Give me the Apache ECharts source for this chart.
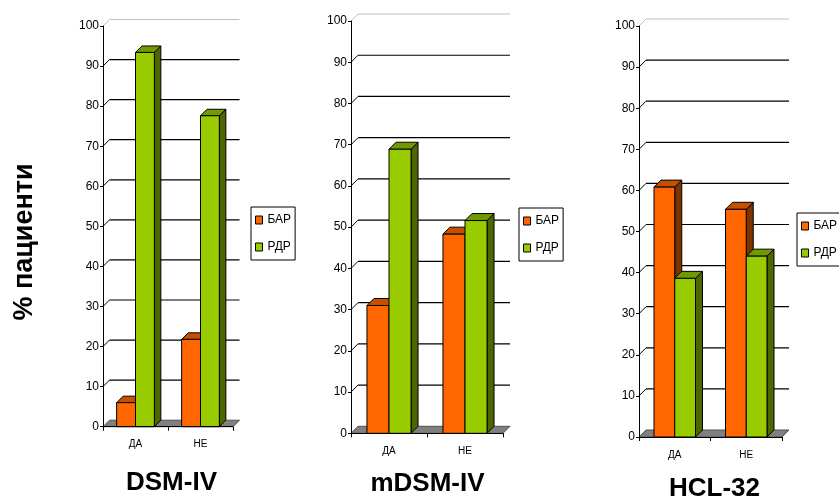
<!DOCTYPE html>
<html><head><meta charset="utf-8">
<script src="https://cdn.jsdelivr.net/npm/echarts@6/dist/echarts.min.js"></script>
<style>html,body{margin:0;padding:0;background:#fff}#c{width:839px;height:498px}</style>
</head><body><div id="c"></div>
<script>
// ---- data ----
const categories = ['ДА', 'НЕ'];
const seriesNames = ['БАР', 'РДР'];
const dsmBAR = [6, 21.8];
const dsmRDR = [93.4, 77.6];
const mdsmBAR = [31, 48.3];
const mdsmRDR = [68.9, 51.6];
const hclBAR = [60.8, 55.4];
const hclRDR = [38.6, 44];
const yTicks = [0, 10, 20, 30, 40, 50, 60, 70, 80, 90, 100];
const panelTitles = ['DSM-IV', 'mDSM-IV', 'HCL-32'];
const yTitle = '% пациенти';

// ---- layout / style ----
const panelData = [[dsmBAR, dsmRDR], [mdsmBAR, mdsmRDR], [hclBAR, hclRDR]];
const layout = [
  { grid: { left: 103, top: 26, width: 130, height: 400.7 }, depth: 6.5, legend: { left: 251, top: 207 }, title: [171.5, 483] },
  { grid: { left: 351, top: 21, width: 152, height: 412.3 }, depth: 7, legend: { left: 519, top: 208 }, title: [427.5, 484] },
  { grid: { left: 639, top: 26, width: 143, height: 411 }, depth: 7, legend: { left: 797, top: 213 }, title: [714.5, 489] }
];
const palette = [
  { front: '#FF6600', top: '#C65000', side: '#7F3300' },
  { front: '#99CC00', top: '#739900', side: '#4D6600' }
];
const FONT = "'Liberation Sans', Arial, sans-serif";

function barRender(side, colors, d) {
  return function (params, api) {
    const i = api.value(0), v = api.value(1);
    const top = api.coord([i, v]);
    const bot = api.coord([i, 0]);
    const bw = api.size([1, 0])[0];
    const w = bw * 0.29;
    const x0 = side === 0 ? top[0] - w : top[0];
    const x1 = x0 + w;
    const yT = top[1], yB = bot[1];
    const st = { stroke: '#000', lineWidth: 1 };
    return {
      type: 'group', children: [
        { type: 'polygon', shape: { points: [[x1, yT], [x1 + d, yT - d], [x1 + d, yB - d], [x1, yB]] }, style: Object.assign({ fill: colors.side }, st) },
        { type: 'polygon', shape: { points: [[x0, yT], [x0 + d, yT - d], [x1 + d, yT - d], [x1, yT]] }, style: Object.assign({ fill: colors.top }, st) },
        { type: 'rect', shape: { x: x0, y: yT, width: w, height: yB - yT }, style: Object.assign({ fill: colors.front }, st) }
      ]
    };
  };
}

function wallRender(d) {
  return function (params, api) {
    const cs = params.coordSys;
    const v = api.value(1);
    const y = api.coord([0, v])[1];
    const xa = cs.x, xe = cs.x + cs.width;
    if (v === 0) {
      return { type: 'polygon', shape: { points: [[xa, y], [xe, y], [xe + d, y - d], [xa + d, y - d]] }, style: { fill: '#808080', stroke: '#505050', lineWidth: 1 } };
    }
    const col = v === 100 ? '#c0c0c0' : '#000';
    return {
      type: 'group', children: [
        { type: 'line', shape: { x1: xa, y1: y, x2: xa + d, y2: y - d }, style: { stroke: col, lineWidth: 1 } },
        { type: 'line', shape: { x1: xa + d, y1: y - d, x2: xe + d, y2: y - d }, style: { stroke: col, lineWidth: 1.2 } }
      ]
    };
  };
}

const grids = [], xAxes = [], yAxes = [], series = [], legends = [], graphics = [];
layout.forEach((L, k) => {
  grids.push(Object.assign({ containLabel: false }, L.grid));
  xAxes.push({
    type: 'category', gridIndex: k, data: categories, z: 10,
    axisLine: { show: true, lineStyle: { color: '#000', width: 1 } },
    axisTick: { show: true, length: 4, lineStyle: { color: '#000' } },
    axisLabel: { color: '#000', fontSize: 10, fontFamily: FONT, margin: 13 },
    splitLine: { show: false }
  });
  yAxes.push({
    type: 'value', gridIndex: k, min: 0, max: 100, interval: 10, z: 10,
    axisLine: { show: true, lineStyle: { color: '#000', width: 1 } },
    axisTick: { show: true, length: 3, lineStyle: { color: '#000' } },
    axisLabel: { color: '#000', fontSize: 12, fontFamily: FONT, margin: 4 },
    splitLine: { show: false }
  });
  series.push({
    type: 'custom', xAxisIndex: k, yAxisIndex: k, z: 1, silent: true,
    renderItem: wallRender(L.depth), data: yTicks.map(v => [0, v]), encode: { x: 0, y: 1 }
  });
  panelData[k].forEach((vals, s) => {
    series.push({
      type: 'custom', name: seriesNames[s], xAxisIndex: k, yAxisIndex: k, z: 2,
      itemStyle: { color: palette[s].front, borderColor: '#000', borderWidth: 1 },
      renderItem: barRender(s, palette[s], L.depth),
      data: vals.map((v, i) => [i, v]), encode: { x: 0, y: 1 }
    });
  });
  legends.push({
    orient: 'vertical', left: L.legend.left, top: L.legend.top,
    data: seriesNames, icon: 'rect', itemWidth: 7, itemHeight: 8, itemGap: 15, itemTextGap: 3,
    padding: [7, 4, 7, 4], borderColor: '#000', borderWidth: 1, backgroundColor: '#fff',
    itemStyle: { borderColor: '#000', borderWidth: 1 },
    textStyle: { color: '#000', fontSize: 12, fontFamily: FONT },
    selectedMode: false
  });
  graphics.push({
    type: 'text', x: L.title[0], y: L.title[1],
    style: { text: panelTitles[k], fill: '#000', font: "bold 26px " + FONT, textAlign: 'center', textVerticalAlign: 'middle' }
  });
});
graphics.push({
  type: 'text', x: 25, y: 242, rotation: Math.PI / 2,
  style: { text: yTitle, fill: '#000', font: "bold 27px " + FONT, textAlign: 'center', textVerticalAlign: 'middle' }
});

const chart = echarts.init(document.getElementById('c'), null, { renderer: 'canvas' });
chart.setOption({
  animation: false,
  backgroundColor: '#fff',
  grid: grids, xAxis: xAxes, yAxis: yAxes, series: series, legend: legends,
  graphic: graphics
});
</script>
</body></html>
